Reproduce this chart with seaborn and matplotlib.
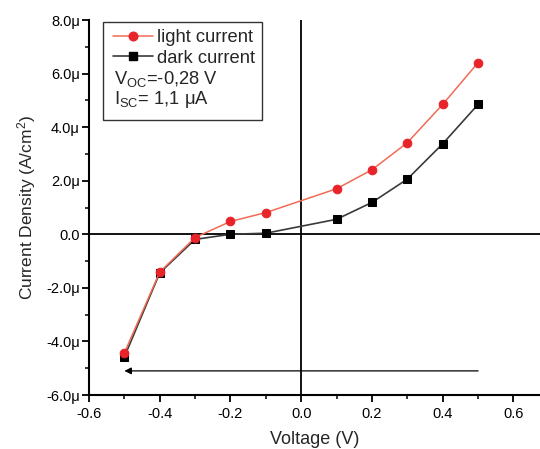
import matplotlib
matplotlib.use("Agg")
import matplotlib.pyplot as plt
import matplotlib.patches as mpatches
from matplotlib.lines import Line2D
from matplotlib.ticker import FuncFormatter, MultipleLocator
import seaborn as sns
import numpy as np

voltage = [-0.5, -0.4, -0.3, -0.2, -0.1, 0.1, 0.2, 0.3, 0.4, 0.5]
light_current = [-4.43, -1.41, -0.12, 0.48, 0.81, 1.70, 2.41, 3.42, 4.85, 6.41]
dark_current = [-4.58, -1.44, -0.19, 0.0, 0.04, 0.56, 1.19, 2.06, 3.38, 4.85]
arrow_y = -5.1
arrow_from = 0.5
arrow_to = -0.5

sns.set_theme(style="ticks")
plt.rcParams['font.family'] = ['Liberation Sans', 'DejaVu Sans']
plt.rcParams['mathtext.fontset'] = 'custom'
plt.rcParams['mathtext.rm'] = 'Liberation Sans'
plt.rcParams['mathtext.it'] = 'Liberation Sans:italic'

fig = plt.figure(figsize=(5.40, 4.49), dpi=100)
ax = fig.add_axes([89/540, 1-395/449, 1-89/540, (395-20)/449])

ax.axhline(0, color='black', lw=1.3, zorder=1)
ax.axvline(0, color='black', lw=1.3, zorder=1)
ax.annotate('', xy=(arrow_to, arrow_y), xytext=(arrow_from, arrow_y),
            arrowprops=dict(arrowstyle='-|>', color='black', lw=0.9,
                            mutation_scale=10, shrinkA=0, shrinkB=0))

sns.lineplot(x=voltage, y=dark_current, ax=ax, color='#3a3a3a', lw=1.2,
             marker='s', markersize=5.2, markerfacecolor='black',
             markeredgecolor='black', sort=False, zorder=3)
sns.lineplot(x=voltage, y=light_current, ax=ax, color='#f26b55', lw=1.1,
             marker='o', markersize=6.2, markerfacecolor='#e8232a',
             markeredgecolor='#e8232a', sort=False, zorder=4)

ax.set_xlim(-0.6, 0.675)
ax.set_ylim(-6, 8)
ax.xaxis.set_major_locator(MultipleLocator(0.2))
ax.xaxis.set_minor_locator(MultipleLocator(0.1))
ax.yaxis.set_major_locator(MultipleLocator(2))
ax.yaxis.set_minor_locator(MultipleLocator(1))

def yfmt(v, pos):
    if abs(v) < 1e-9:
        return "0.0"
    return f"{v:.1f}μ"

def xfmt(v, pos):
    if abs(v) < 1e-9:
        return "0.0"
    return f"{v:.1f}"

ax.yaxis.set_major_formatter(FuncFormatter(yfmt))
ax.xaxis.set_major_formatter(FuncFormatter(xfmt))

for s in ['top', 'right']:
    ax.spines[s].set_visible(False)
for s in ['left', 'bottom']:
    ax.spines[s].set_linewidth(1.5)
    ax.spines[s].set_color('black')

ax.tick_params(which='major', direction='out', length=5, width=1.3,
               labelsize=10.5, colors='black', pad=3.5)
ax.tick_params(which='minor', direction='out', length=3, width=1.1, colors='black')
ax.tick_params(axis='y', which='major', pad=1.5)

ax.set_xlabel('Voltage (V)', fontsize=13, labelpad=7)
ax.set_ylabel('Current Density (A/cm$^2$)', fontsize=12.5, labelpad=6)

# legend box
rect = mpatches.Rectangle((103/540, 1-120/449), (262-103)/540, 98/449,
                          transform=fig.transFigure, fill=False,
                          edgecolor='#333333', lw=1.0, zorder=5)
fig.patches.append(rect)

handles = [Line2D([], [], color='#f26b55', lw=1.1, marker='o', markersize=6.2,
                  markerfacecolor='#e8232a', markeredgecolor='#e8232a'),
           Line2D([], [], color='#3a3a3a', lw=1.2, marker='s', markersize=5.2,
                  markerfacecolor='black', markeredgecolor='black')]
leg = fig.legend(handles, ['light current', 'dark current'],
                 loc='upper left', bbox_to_anchor=(113/540, 1-29/449),
                 frameon=False, fontsize=13.2, handlelength=2.2,
                 handletextpad=0.2, labelspacing=0.2, borderpad=0,
                 borderaxespad=0)

fig.text(114/540, 1-79/449, r'V$_{\mathrm{OC}}$=-0,28 V', fontsize=13.2,
         va='center', ha='left')
fig.text(114/540, 1-100/449, r'I$_{\mathrm{SC}}$= 1,1 μA', fontsize=13.2,
         va='center', ha='left')

fig.savefig('out.png', dpi=100)
